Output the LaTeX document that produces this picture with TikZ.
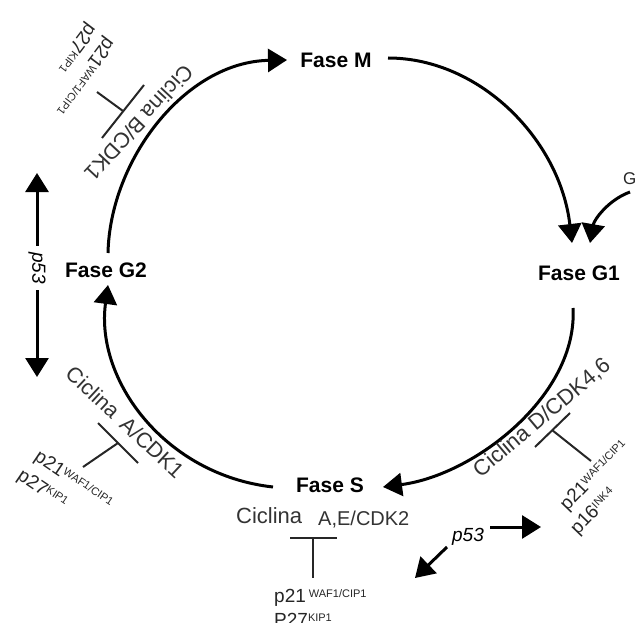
\documentclass[tikz,border=0pt]{standalone}
\usepackage{fontspec}
\setmainfont{Liberation Sans}
\usetikzlibrary{arrows.meta}
\newcommand\supx[1]{\raisebox{5pt}{\fontsize{11}{12}\selectfont #1}}
\begin{document}
\begin{tikzpicture}[x=1pt,y=-1pt,
  phase/.style={font=\fontsize{21}{25}\selectfont\bfseries, inner sep=0pt},
  cyc/.style={font=\fontsize{21.5}{26}\selectfont, text=black!80, inner sep=0pt},
  inh/.style={font=\fontsize{19}{22}\selectfont, text=black!85, inner sep=0pt},
  big/.style={line width=3pt, -{Triangle[length=19pt,width=23pt]}},
  tbar/.style={line width=2pt, black!85},
  pf/.style={font=\fontsize{19}{22}\selectfont\itshape, inner sep=1pt}]
\useasboundingbox (0,0) rectangle (637,623);

% phases
\node[phase] (M) at (336,60) {Fase M};
\node[phase] (G1) at (579,273) {Fase G1};
\node[phase] (S) at (330,485) {Fase S};
\node[phase] (G2) at (106,270) {Fase G2};

% arc end points
\coordinate (a1s) at (388,58);  \coordinate (a1e) at (572,243);
\coordinate (a2s) at (573,308); \coordinate (a2e) at (383,487);
\coordinate (a3s) at (273,487); \coordinate (a3e) at (108,285);
\coordinate (a4s) at (108,253); \coordinate (a4e) at (287,60);

\draw[big] (a1s) .. controls (480,58) and (560,140) .. (a1e);
\draw[big] (a2s) .. controls (578,395) and (475,475) .. (a2e);
\draw[big] (a3s) .. controls (165,475) and (95,380) .. (a3e);
\draw[big] (a4s) .. controls (110,160) and (185,62) .. (a4e);

% G input
\node[font=\fontsize{17}{20}\selectfont, anchor=base west, inner sep=0pt, text=black!85] (G) at (623,184) {G};
\coordinate (gs) at (630,192); \coordinate (ge) at (590,243);
\draw[big] (gs) .. controls (608,200) and (594,220) .. (ge);

% p53 left
\node[pf, rotate=-90, inner sep=6pt] (p53l) at (37,268) {p53};
\coordinate (p53t) at (37,173); \coordinate (p53b) at (37,377);
\draw[big] (p53l) -- (p53t);
\draw[big] (p53l) -- (p53b);

% p53 right
\node[pf] (p53r) at (468,537) {p53};
\coordinate (p53rs) at (490,527); \coordinate (p53re) at (541,527);
\coordinate (p53ds) at (447,547); \coordinate (p53de) at (415,578);
\draw[big] (p53rs) -- (p53re);
\draw[big] (p53ds) -- (p53de);

% cyclin labels
\node[cyc, rotate=-133] (cB) at (139,123) {Ciclina B/CDK1};
\node[cyc, rotate=-43] (cA) at (125,422) {Ciclina\hspace{0.45em}A/CDK1};
\node[cyc, font=\fontsize{22}{26}\selectfont, rotate=40] (cD) at (542,418) {Ciclina D/CDK4,6};
\node[cyc, font=\fontsize{22}{26}\selectfont, anchor=base west] (cAE1) at (236,523) {Ciclina};
\node[cyc, font=\fontsize{20}{24}\selectfont, anchor=base west] (cAE2) at (318,525) {A,E/CDK2};

% inhibitor labels
\node[inh, rotate=-127] (iB1) at (83,75) {p21\supx{WAF1/CIP1}};
\node[inh, rotate=-127] (iB2) at (75,47) {p27\supx{KIP1}};
\node[inh, rotate=-34] (iA1) at (73,481) {p21\supx{WAF1/CIP1}};
\node[inh, rotate=-34] (iA2) at (42,490) {p27\supx{KIP1}};
\node[inh, rotate=46] (iD1) at (595,476) {p21\supx{WAF1/CIP1}};
\node[inh, rotate=46] (iD2) at (594,512) {p16\supx{INK4}};
\node[inh, anchor=base west] (iE1) at (274,602) {p21\hspace{3pt}\supx{WAF1/CIP1}};
\node[inh, anchor=base west] (iE2) at (274,626) {P27\supx{KIP1}};

% inhibition bars
\coordinate (tB1) at (102,138); \coordinate (tB2) at (144,85);
\coordinate (tBm) at (123,111); \coordinate (tBs) at (97,92);
\draw[tbar] (tB1) -- (tB2); \draw[tbar] (tBm) -- (tBs);

\coordinate (tA1) at (98,423); \coordinate (tA2) at (138,463);
\coordinate (tAm) at (118,443); \coordinate (tAs) at (83,467);
\draw[tbar] (tA1) -- (tA2); \draw[tbar] (tAm) -- (tAs);

\coordinate (tE1) at (290,538); \coordinate (tE2) at (337,538);
\coordinate (tEm) at (313,538); \coordinate (tEs) at (313,578);
\draw[tbar] (tE1) -- (tE2); \draw[tbar] (tEm) -- (tEs);

\coordinate (tD1) at (535,447); \coordinate (tD2) at (570,413);
\coordinate (tDm) at (552,430); \coordinate (tDs) at (591,461);
\draw[tbar] (tD1) -- (tD2); \draw[tbar] (tDm) -- (tDs);
\end{tikzpicture}
\end{document}
